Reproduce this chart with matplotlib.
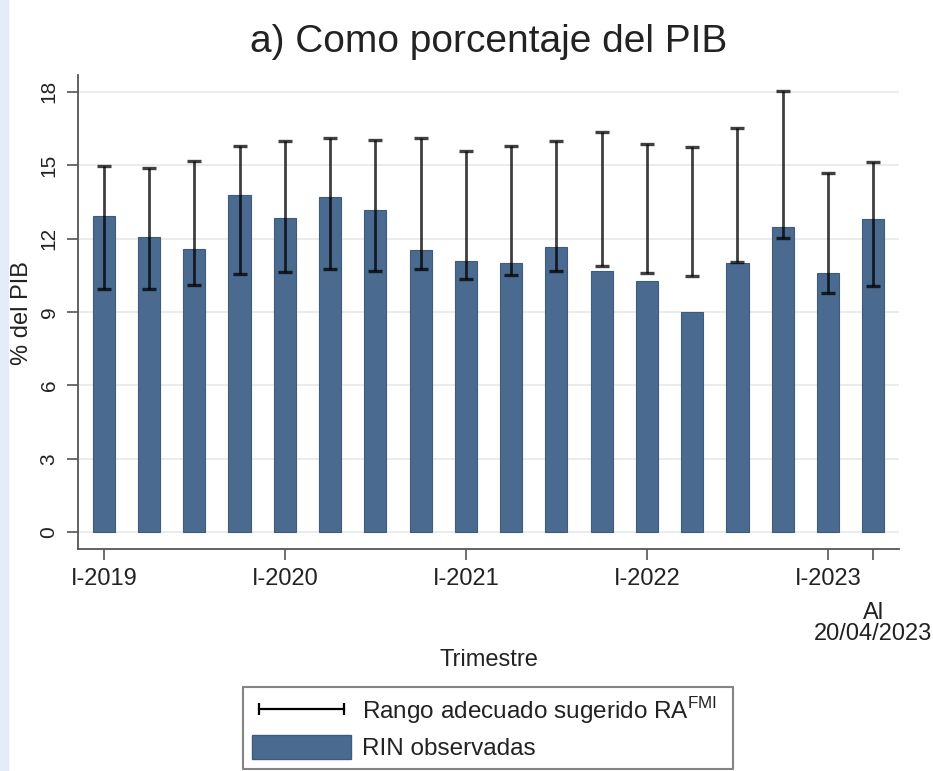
import matplotlib
matplotlib.use("Agg")
import matplotlib.pyplot as plt
from matplotlib.lines import Line2D
from matplotlib.patches import Patch, Rectangle
import numpy as np

plt.rcParams['font.family'] = ['Liberation Sans', 'DejaVu Sans']
plt.rcParams['mathtext.fontset'] = 'custom'
plt.rcParams['mathtext.rm'] = 'Liberation Sans'

# --- datos (% del PIB) ---
trimestres = ['I-2019', 'II-2019', 'III-2019', 'IV-2019',
              'I-2020', 'II-2020', 'III-2020', 'IV-2020',
              'I-2021', 'II-2021', 'III-2021', 'IV-2021',
              'I-2022', 'II-2022', 'III-2022', 'IV-2022',
              'I-2023', 'Al\n20/04/2023']
rin_observadas = [12.92, 12.08, 11.56, 13.79, 12.84, 13.70, 13.17, 11.55, 11.07,
                  11.01, 11.67, 10.67, 10.28, 9.01, 11.01, 12.46, 10.61, 12.81]
rango_min = [9.95, 9.93, 10.09, 10.54, 10.63, 10.74, 10.69, 10.74, 10.36,
             10.51, 10.67, 10.89, 10.58, 10.47, 11.05, 12.01, 9.79, 10.06]
rango_max = [14.96, 14.90, 15.15, 15.79, 15.98, 16.09, 16.03, 16.11, 15.56,
             15.78, 16.00, 16.35, 15.87, 15.73, 16.53, 18.01, 14.67, 15.14]
etiquetas_x = ['I-2019', 'I-2020', 'I-2021', 'I-2022', 'I-2023', 'Al\n20/04/2023']
yticks = [0, 3, 6, 9, 12, 15, 18]

color_barra = '#4a6b8f'
texto = '#222222'

W, H = 933, 771
fig = plt.figure(figsize=(W / 100, H / 100), dpi=100)
fig.patches.append(Rectangle((0, 0), 8 / W, 1, transform=fig.transFigure,
                             color='#e4ebfb', zorder=0))

ax = fig.add_axes([78 / W, 1 - 549 / H, (899 - 78) / W, (549 - 75) / H])

x = np.arange(len(trimestres))
bajo = np.array(rango_min)
alto = np.array(rango_max)

ax.bar(x, rin_observadas, width=0.49, color=color_barra,
       edgecolor='#3d5b7c', linewidth=0.8, zorder=2)
ax.errorbar(x, (bajo + alto) / 2, yerr=(alto - bajo) / 2, fmt='none',
            ecolor='black', alpha=0.75, elinewidth=2.0, capsize=5,
            capthick=2.4, zorder=3)

ax.set_xlim(-0.57, 17.57)
ax.set_ylim(-0.68, 18.68)
ax.set_yticks(yticks)
ax.set_yticklabels([str(v) for v in yticks], rotation=90, va='center',
                   fontsize=15, color=texto)
ax.grid(axis='y', color='#e9e9e9', linewidth=1.3, zorder=0)
ax.set_axisbelow(True)

pos_x = [trimestres.index(t) for t in etiquetas_x]
ax.set_xticks(pos_x)
ax.set_xticklabels(etiquetas_x, fontsize=17, color=texto)
ax.tick_params(axis='both', direction='out', length=8, width=1.2,
               color='#555555')
ax.tick_params(axis='x', pad=6)
ax.tick_params(axis='y', pad=6)
ult = ax.xaxis.get_major_ticks()[-1]
ult.set_pad(30)
ult.label1.set_linespacing(0.95)

for s in ['top', 'right']:
    ax.spines[s].set_visible(False)
for s in ['left', 'bottom']:
    ax.spines[s].set_color('#555555')
    ax.spines[s].set_linewidth(1.3)

cx = (78 + 899) / 2 / W
fig.text(cx, 1 - 42 / H, 'a) Como porcentaje del PIB', ha='center',
         va='center', fontsize=28, color=texto)
fig.text(cx, 1 - 660 / H, 'Trimestre', ha='center', va='center',
         fontsize=17, color=texto)
fig.text(22 / W, 1 - 313 / H, '% del PIB', ha='center', va='center',
         rotation=90, fontsize=17, color=texto)

handles = [Line2D([], [], color='black', linewidth=1.6, marker='|',
                  markersize=8, markeredgewidth=1.6),
           Patch(facecolor=color_barra, edgecolor='#3d5b7c')]
labels = [r'Rango adecuado sugerido RA$^{\mathrm{FMI}}$', 'RIN observadas']
leg = fig.legend(handles, labels, loc='upper left',
                 bbox_to_anchor=(243 / W, 1 - 687 / H - 0.1, (733 - 243) / W, 0.1),
                 mode='expand', numpoints=2, handlelength=4.1,
                 handleheight=1.15, handletextpad=0.45, labelspacing=0.35,
                 borderpad=0.35, borderaxespad=0, fontsize=17.5, frameon=True,
                 fancybox=False, edgecolor='#666666', labelcolor=texto)
leg.get_frame().set_linewidth(1.5)

fig.savefig('out.png', dpi=100)
